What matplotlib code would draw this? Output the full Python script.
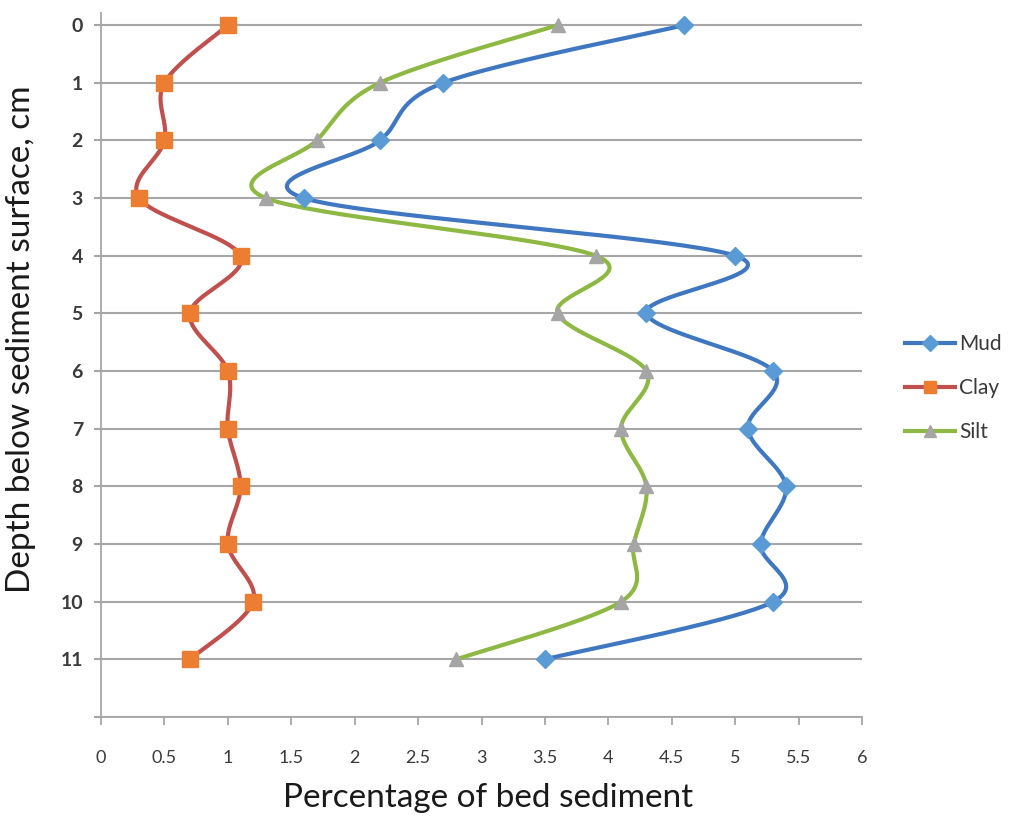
import numpy as np
import matplotlib.pyplot as plt
from matplotlib.lines import Line2D

plt.rcParams['font.family'] = ['Lato', 'DejaVu Sans']

depth = [0, 1, 2, 3, 4, 5, 6, 7, 8, 9, 10, 11]
mud = [4.6, 2.7, 2.2, 1.6, 5.0, 4.3, 5.3, 5.1, 5.4, 5.2, 5.3, 3.5]
clay = [1.0, 0.5, 0.5, 0.3, 1.1, 0.7, 1.0, 1.0, 1.1, 1.0, 1.2, 0.7]
silt = [3.6, 2.2, 1.7, 1.3, 3.9, 3.6, 4.3, 4.1, 4.3, 4.2, 4.1, 2.8]

x_ticks = [0, 0.5, 1, 1.5, 2, 2.5, 3, 3.5, 4, 4.5, 5, 5.5, 6]
x_tick_labels = ['0', '0.5', '1', '1.5', '2', '2.5', '3', '3.5', '4', '4.5', '5', '5.5', '6']


def smooth(xs, ys, n=40):
    # Catmull-Rom style Bezier segments through every point (spreadsheet "smoothed line")
    p = np.column_stack([xs, ys]).astype(float)
    p = np.vstack([p[0], p, p[-1]])
    out = []
    t = np.linspace(0, 1, n)[:, None]
    for i in range(1, len(p) - 2):
        p0, p1, p2, p3 = p[i - 1], p[i], p[i + 1], p[i + 2]
        c1 = p1 + (p2 - p0) / 6
        c2 = p2 - (p3 - p1) / 6
        seg = ((1 - t) ** 3) * p1 + 3 * ((1 - t) ** 2) * t * c1 + 3 * (1 - t) * t ** 2 * c2 + t ** 3 * p2
        out.append(seg)
    out = np.vstack(out)
    return out[:, 0], out[:, 1]


fig = plt.figure(figsize=(10.11, 8.18), dpi=100)
ax = fig.add_axes([101 / 1011, 1 - 717 / 818, 761 / 1011, 704 / 818])

series = [
    ('Mud', mud, '#3f78c1', '#5b9bd5', 'D', 9),
    ('Clay', clay, '#c0504d', '#ed7d31', 's', 11),
    ('Silt', silt, '#8db843', '#a5a5a5', '^', 10),
]

handles = []
for name, vals, lc, mc, mk, ms in series:
    sx, sy = smooth(vals, depth)
    ax.plot(sx, sy, color=lc, lw=3, solid_capstyle='round', zorder=3)
    ax.plot(vals, depth, linestyle='none', marker=mk, markersize=ms,
            markerfacecolor=mc, markeredgecolor=mc, zorder=4)
    handles.append(Line2D([0], [0], color=lc, lw=3, marker=mk, markersize=ms * 0.85,
                          markerfacecolor=mc, markeredgecolor=mc))

ax.set_xlim(0, 6)
ax.set_ylim(12, -0.21)
ax.set_xticks(x_ticks)
ax.set_xticklabels(x_tick_labels)
ax.set_yticks(depth + [12])
ax.set_yticklabels([str(d) for d in depth] + [''])

ax.grid(axis='y', color='#a6a6a6', lw=1.5, zorder=1)
ax.set_axisbelow(True)
for side in ['top', 'right']:
    ax.spines[side].set_visible(False)
for side in ['left', 'bottom']:
    ax.spines[side].set_color('#a6a6a6')
    ax.spines[side].set_linewidth(1.3)

ax.tick_params(axis='x', length=6, width=1.3, color='#a6a6a6', pad=18,
               labelsize=13, labelcolor='#3a3a3a')
ax.tick_params(axis='y', length=5, width=1.5, color='#a6a6a6', pad=8,
               labelsize=14, labelcolor='#3a3a3a')
for lab in ax.get_yticklabels():
    lab.set_fontweight('bold')

ax.set_xlabel('Percentage of bed sediment', fontsize=24, color='#1a1a1a')
ax.xaxis.set_label_coords(0.509, -0.094)
ax.set_ylabel('Depth below sediment surface, cm', fontsize=24, color='#1a1a1a')
ax.yaxis.set_label_coords(-0.085, 0.537)

ax.legend(handles, [s[0] for s in series], loc='center left',
          bbox_to_anchor=(905 / 1011, 1 - 388 / 818), bbox_transform=fig.transFigure,
          borderpad=0, borderaxespad=0, frameon=False, fontsize=15,
          handlelength=2.4, handletextpad=0.2, labelspacing=1.15, labelcolor='#3a3a3a')

fig.savefig('out.png', dpi=100)
